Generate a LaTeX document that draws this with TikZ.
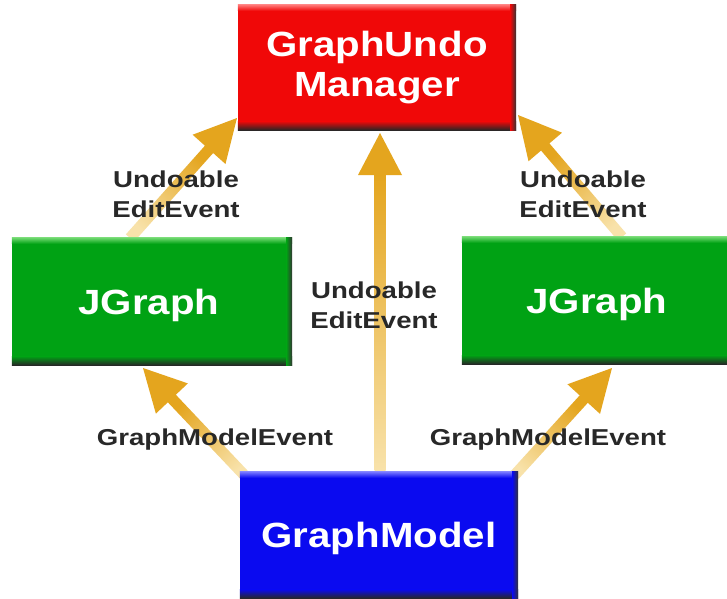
\documentclass[tikz,border=0pt]{standalone}
\usepackage{fontspec}
\newfontfamily\boxfont[FakeStretch=1.15]{Liberation Sans}
\newfontfamily\labfont[FakeStretch=1.2]{Liberation Sans}
\usetikzlibrary{calc}
\definecolor{gold}{RGB}{228,165,30}
\definecolor{goldpale}{RGB}{248,226,170}
\definecolor{rbox}{RGB}{240,8,8}
\definecolor{rlight}{RGB}{255,120,120}
\definecolor{gbox}{RGB}{0,162,20}
\definecolor{glight}{RGB}{110,215,110}
\definecolor{bbox}{RGB}{10,10,240}
\definecolor{blight}{RGB}{120,120,255}
\definecolor{labgray}{RGB}{40,40,40}
\tikzset{
  evbox/.style={inner sep=0pt, text=white, align=center,
    font=\boxfont\bfseries\fontsize{35}{40}\selectfont},
  evlabel/.style={inner sep=0pt, text=labgray, align=center,
    font=\labfont\bfseries\fontsize{23}{30}\selectfont},
}
\newcommand\bevel[3]{%
  \shade[top color=#3, bottom color=#2] (#1.north west) rectangle ($(#1.north east)+(0,6)$);
  \shade[top color=#2, bottom color=black!85] ($(#1.south west)+(0,-9)$) rectangle (#1.south east);
  \shade[left color=#2, right color=black!80] ($(#1.north east)+(-6,0)$) rectangle (#1.south east);
}
\newcommand\goldarrow[2]{%
  \path let \p1=(#1), \p2=(#2), \n1={atan2(\y2-\y1,\x2-\x1)}, \n2={veclen(\x2-\x1,\y2-\y1)} in
    \pgfextra{\xdef\garrang{\n1}\xdef\garrlen{\n2}};
  \pgfmathsetmacro\garrshade{\garrang-90}
  \begin{scope}[shift={(#1)}, rotate=\garrang, x=1pt, y=1pt]
    \shade[top color=gold, bottom color=goldpale, shading angle=\garrshade]
      (0,-5.5) rectangle (\garrlen-40,5.5);
    \fill[gold] (\garrlen-42,-22) -- (\garrlen,0) -- (\garrlen-42,22) -- cycle;
  \end{scope}}
\begin{document}
\begin{tikzpicture}[x=1pt,y=-1pt]
\useasboundingbox[fill=white] (0,0) rectangle (727,598);
% arrow end points
\coordinate (cT) at (380,470);  \coordinate (cH) at (380,133);
\coordinate (llT) at (247,478); \coordinate (llH) at (143,368);
\coordinate (lrT) at (512,478); \coordinate (lrH) at (612,368);
\coordinate (ulT) at (130,238); \coordinate (ulH) at (237,118);
\coordinate (urT) at (622,237); \coordinate (urH) at (518,115);
\goldarrow{cT}{cH}
\goldarrow{llT}{llH}
\goldarrow{lrT}{lrH}
\goldarrow{ulT}{ulH}
\goldarrow{urT}{urH}
% boxes
\node[evbox, fill=rbox, minimum width=278pt, minimum height=125pt] (um) at (377,67.5) {};
\bevel{um}{rbox}{rlight}
\node[evbox] at (um.center) {GraphUndo\\Manager};
\node[evbox, fill=gbox, minimum width=280pt, minimum height=127pt] (jl) at (152,301.5) {};
\bevel{jl}{gbox}{glight}
\node[evbox] at ($(jl.center)+(-3,4)$) {JGraph};
\node[evbox, fill=gbox, minimum width=280pt, minimum height=127pt] (jr) at (602,300.5) {};
\bevel{jr}{gbox}{glight}
\node[evbox] at ($(jr.center)+(-5,4)$) {JGraph};
\node[evbox, fill=bbox, minimum width=278pt, minimum height=126pt] (gm) at (379,535) {};
\bevel{gm}{bbox}{blight}
\node[evbox] at ($(gm.center)+(0,3)$) {GraphModel};
% labels
\node[evlabel] (l1) at (176,194) {Undoable\\EditEvent};
\node[evlabel] (l2) at (583,194) {Undoable\\EditEvent};
\node[evlabel] (l3) at (374,305) {Undoable\\EditEvent};
\node[evlabel] (l4) at (215,440) {GraphModelEvent};
\node[evlabel] (l5) at (548,440) {GraphModelEvent};
\end{tikzpicture}
\end{document}
